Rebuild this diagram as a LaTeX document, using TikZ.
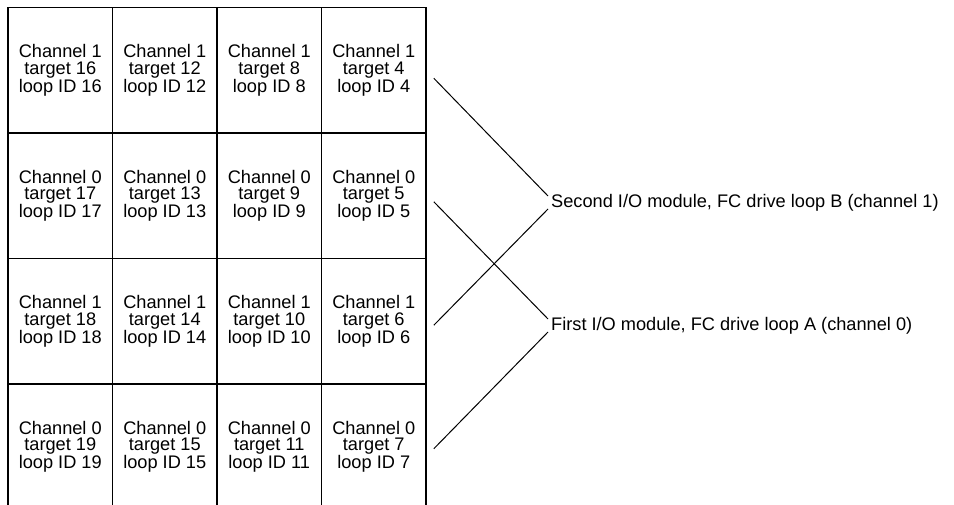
\documentclass[tikz,border=0pt]{standalone}
\usepackage{fontspec}
\setmainfont{Liberation Sans}
\usetikzlibrary{positioning, calc}

\tikzset{
  cell/.style={draw, line width=1.6pt, minimum width=104.5pt, minimum height=125.5pt,
    inner sep=0pt, align=center, font=\fontsize{18.2}{16.5}\selectfont},
  loopline/.style={line width=1pt},
  looplabel/.style={anchor=west, inner sep=0pt, font=\fontsize{18.2}{18}\selectfont}
}

\begin{document}
\begin{tikzpicture}[x=1pt, y=-1pt]
    \clip (0,0) rectangle (954,505);
    \fill[white] (0,0) rectangle (954,505);
    % drive bays, 4 columns x 4 rows
    \foreach \c in {0,...,3} {
      \foreach \r in {0,...,3} {
        \pgfmathtruncatemacro{\tgt}{16-4*\c+\r}
        \pgfmathtruncatemacro{\chn}{1-mod(\r,2)}
        \node[cell] (c\r\c) at ({8+104.5*(\c+0.5)}, {7.5+125.5*(\r+0.5)})
          {Channel \chn\\target \tgt\\loop ID \tgt};
      }
    }
    \node[looplabel] (loopB) at (551,203) {Second I/O module, FC drive loop B (channel 1)};
    \node[looplabel] (loopA) at (551,326) {First I/O module, FC drive loop A (channel 0)};
    \coordinate (p0) at ($(c03.east)+(7,8)$);
    \coordinate (p1) at ($(c13.east)+(7,6)$);
    \coordinate (p2) at ($(c23.east)+(7,4)$);
    \coordinate (p3) at ($(c33.east)+(7,2)$);
    \draw[loopline] (p0) -- ([xshift=-3pt, yshift=7pt]loopB.west);
    \draw[loopline] (p2) -- ([xshift=-3pt, yshift=-6pt]loopB.west);
    \draw[loopline] (p1) -- ([xshift=-3pt, yshift=7pt]loopA.west);
    \draw[loopline] (p3) -- ([xshift=-3pt, yshift=-6pt]loopA.west);
\end{tikzpicture}
\end{document}
